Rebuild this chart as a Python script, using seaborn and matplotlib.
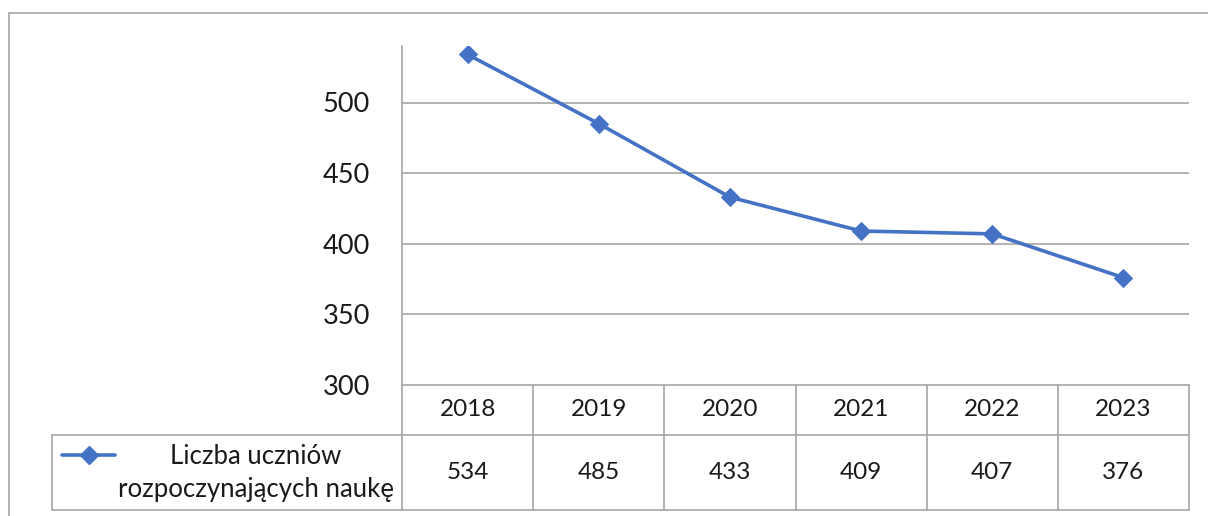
import matplotlib
matplotlib.use("Agg")
import matplotlib.pyplot as plt
from matplotlib.patches import Rectangle
from matplotlib.lines import Line2D
import seaborn as sns
import pandas as pd

years = ["2018", "2019", "2020", "2021", "2022", "2023"]
values = [534, 485, 433, 409, 407, 376]
series_label = "Liczba uczniów\nrozpoczynających naukę"
y_ticks = [300, 350, 400, 450, 500]

line_color = "#4472C4"
grid_color = "#A6A6A6"

sns.set_theme(style="white")
plt.rcParams["font.family"] = ["Lato", "DejaVu Sans"]

W, H = 1208, 516
fig = plt.figure(figsize=(W / 100, H / 100), dpi=100)

# outer chart frame (clipped at right and bottom)
fig.patches.append(Rectangle((9 / W, -0.1), 1.2, (516 - 13) / H + 0.1,
                             transform=fig.transFigure, fill=False,
                             edgecolor=grid_color, linewidth=1.2))

# plot area
ax = fig.add_axes([402 / W, (516 - 385) / H, 787 / W, 339 / H])
df = pd.DataFrame({"x": range(len(years)), "y": values})
sns.lineplot(data=df, x="x", y="y", ax=ax, color=line_color, linewidth=2.6,
             marker="D", markersize=9, markeredgecolor=line_color)
ax.set_xlim(-0.5, len(years) - 0.5)
ax.set_ylim(300, 540)
ax.set_yticks(y_ticks)
ax.set_yticklabels([str(t) for t in y_ticks], fontsize=19.5, color="#1a1a1a")
ax.tick_params(axis="y", length=0, pad=23)
ax.set_xticks([])
ax.set_xlabel("")
ax.set_ylabel("")
for t in y_ticks[1:]:
    ax.axhline(t, color=grid_color, linewidth=1.2, zorder=0)
for s in ["top", "right", "bottom"]:
    ax.spines[s].set_visible(False)
ax.spines["left"].set_color(grid_color)
ax.spines["left"].set_linewidth(1.2)
ax.patch.set_alpha(0)

# data table below the plot
cell_w = 787 / len(years)
legend_w = (402 - 52) / cell_w
tab = fig.add_axes([52 / W, (516 - 510) / H, (1189 - 52) / W, 125 / H])
tab.set_xlim(-0.5 - legend_w, len(years) - 0.5)
tab.set_ylim(2, 0)
tab.axis("off")
row_split = 50 / 125 * 2
kw = dict(color=grid_color, linewidth=1.2, clip_on=False)
tab.plot([-0.5, len(years) - 0.5], [0, 0], **kw)
tab.plot([-0.5 - legend_w, len(years) - 0.5], [row_split, row_split], **kw)
tab.plot([-0.5 - legend_w, len(years) - 0.5], [2, 2], **kw)
tab.plot([-0.5 - legend_w, -0.5 - legend_w], [row_split, 2], **kw)
for i in range(len(years) + 1):
    tab.plot([i - 0.5, i - 0.5], [0, 2], **kw)
for i, (yr, v) in enumerate(zip(years, values)):
    tab.text(i, row_split / 2, yr, ha="center", va="center", fontsize=17.5, color="#1a1a1a")
    tab.text(i, (row_split + 2) / 2, str(v), ha="center", va="center", fontsize=17.5, color="#1a1a1a")

# legend key in the table
key_x0 = -0.5 - legend_w + 10 / cell_w
key_x1 = key_x0 + 53 / cell_w
key_y = row_split + 20 / 125 * 2
tab.add_line(Line2D([key_x0, key_x1], [key_y, key_y], color=line_color, linewidth=2.6))
tab.plot([(key_x0 + key_x1) / 2], [key_y], marker="D", markersize=9, color=line_color)
tab.text(-0.5 - legend_w / 2 + 29 / cell_w, (row_split + 2) / 2, series_label,
         ha="center", va="center", fontsize=18.5, linespacing=1.4, color="#1a1a1a")

fig.savefig("out.png", dpi=100)
